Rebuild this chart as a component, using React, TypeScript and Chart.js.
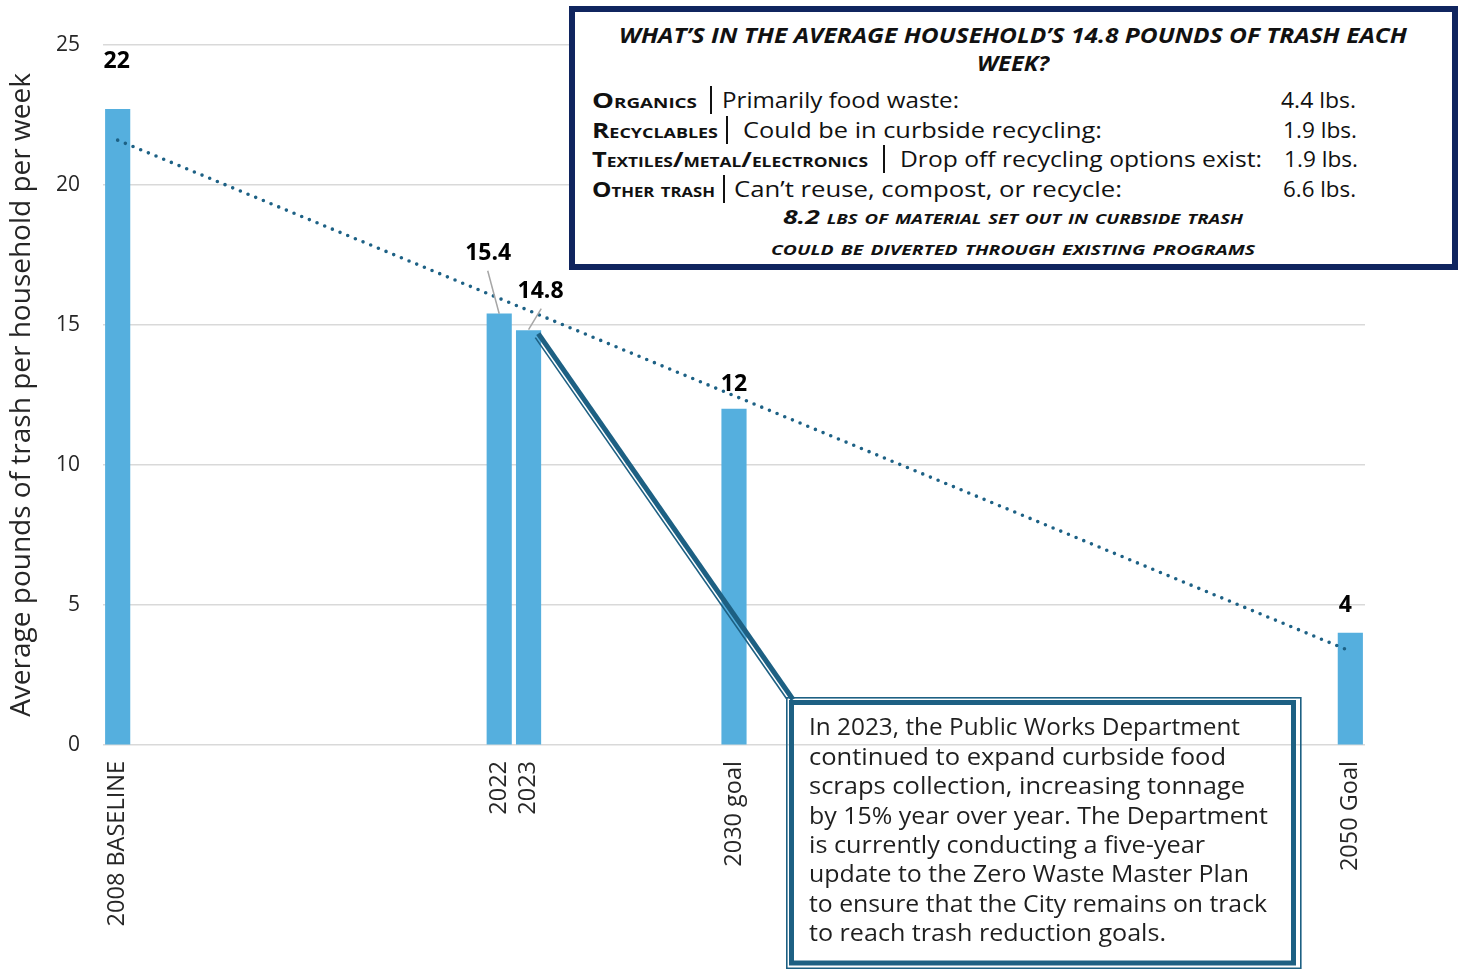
import React, { useEffect, useLayoutEffect, useRef } from "react";
import { Chart, registerables } from "chart.js";

Chart.register(...registerables);

const FONT = "'Open Sans', 'DejaVu Sans', Arial, sans-serif";

// ---------- chart data ----------
const categories = ["2008 BASELINE", "2022", "2023", "2030 goal", "2050 Goal"];
// where the source chart's year axis places each bar
const axisYears = [2008, 2021, 2022, 2029, 2050];
const trashPerWeek = [22.7, 15.4, 14.8, 12, 4];
const valueLabels = ["22", "15.4", "14.8", "12", "4"];
const yTickValues = [0, 5, 10, 15, 20, 25];
const yAxisTitle = "Average pounds of trash per household per week";

// ---------- info box data ----------
const infoTitleLines = [
  "WHAT’S IN THE AVERAGE HOUSEHOLD’S 14.8 POUNDS OF TRASH EACH",
  "WEEK?",
];
const wasteTypes = ["Organics", "Recyclables", "Textiles/metal/electronics", "Other trash"];
const wasteNotes = [
  "Primarily food waste:",
  "Could be in curbside recycling:",
  "Drop off recycling options exist:",
  "Can’t reuse, compost, or recycle:",
];
const wasteLbs = [4.4, 1.9, 1.9, 6.6];
const divertedLines = [
  "8.2 lbs of material set out in curbside trash",
  "could be diverted through existing programs",
];
const calloutLines = [
  "In 2023, the Public Works Department",
  "continued to expand curbside food",
  "scraps collection, increasing tonnage",
  "by 15% year over year. The Department",
  "is currently conducting a five-year",
  "update to the Zero Waste Master Plan",
  "to ensure that the City remains on track",
  "to reach trash reduction goals.",
];

// ---------- layout / style (not data) ----------
const BAR_COLOR = "#55AFDE";
const TREND_COLOR = "#1d6185";
const CALLOUT_COLOR = "#1d6083";
const NAVY = "#10255f";
const TEXT = "#262626";

// label offsets relative to the bar's top-centre
const LABEL_STYLE = [
  { dx: -1, dy: -48, leader: null },
  { dx: -11, dy: -60, leader: [-11.5, -43, 0, 0] },
  { dx: 12, dy: -39, leader: [12.7, -22, 0, -1] },
  { dx: 0, dy: -25, leader: null },
  { dx: -5, dy: -28, leader: null },
];

// widths of each text run in the overlays (page pixels)
const ROW_LAYOUT = [
  { cy: 100, name: [592, 105], pipe: 711, note: [722, 237], val: [1281, 75] },
  { cy: 130, name: [592, 126], pipe: 727, note: [743, 359], val: [1283, 74] },
  { cy: 159, name: [592, 276], pipe: 884, note: [900, 362], val: [1284, 74] },
  { cy: 189, name: [592, 123], pipe: 724, note: [734, 388], val: [1283, 73] },
];
const CALLOUT_LAYOUT = [
  [728, 431], [758, 417], [787, 436], [817, 459], [846, 396], [875, 440], [905, 458], [934, 357],
];

// least-squares trend line through the bars (as in the source chart)
function trendPoints() {
  const n = axisYears.length;
  const mx = axisYears.reduce((a, b) => a + b, 0) / n;
  const my = trashPerWeek.reduce((a, b) => a + b, 0) / n;
  let sxy = 0, sxx = 0;
  for (let i = 0; i < n; i++) {
    sxy += (axisYears[i] - mx) * (trashPerWeek[i] - my);
    sxx += (axisYears[i] - mx) ** 2;
  }
  const slope = sxy / sxx;
  const x0 = axisYears[0], x1 = axisYears[n - 1];
  return [
    { x: x0, y: my + slope * (x0 - mx) },
    { x: x1, y: my + slope * (x1 - mx) },
  ];
}

type FitProps = {
  left: number;
  cy: number;
  width: number;
  size: number;
  weight?: number;
  italic?: boolean;
  smallCaps?: boolean;
  color?: string;
  children: React.ReactNode;
};

function FitLine({ left, cy, width, size, weight = 400, italic = false, smallCaps = false, color = TEXT, children }: FitProps) {
  const ref = useRef<HTMLDivElement>(null);
  useLayoutEffect(() => {
    const el = ref.current;
    if (!el) return;
    const fit = () => {
      el.style.transform = "none";
      const nat = el.getBoundingClientRect().width;
      if (nat > 0) el.style.transform = `scaleX(${width / nat})`;
    };
    fit();
    if ((document as any).fonts && (document as any).fonts.ready) {
      (document as any).fonts.ready.then(fit);
    }
  }, [width]);
  return (
    <div
      ref={ref}
      style={{
        position: "absolute",
        left,
        top: cy - size * 0.65,
        fontFamily: FONT,
        fontSize: size,
        lineHeight: `${size * 1.2}px`,
        fontWeight: weight,
        fontStyle: italic ? "italic" : "normal",
        fontVariant: smallCaps ? "small-caps" : "normal",
        color,
        whiteSpace: "nowrap",
        transformOrigin: "left center",
      }}
    >
      {children}
    </div>
  );
}

function Pipe({ x, cy }: { x: number; cy: number }) {
  return (
    <div style={{ position: "absolute", left: x - 1, top: cy - 14, width: 2, height: 28, background: "#111" }} />
  );
}

export default function App() {
  const canvasRef = useRef<HTMLCanvasElement>(null);

  useEffect(() => {
    const canvas = canvasRef.current;
    if (!canvas) return;

    const labelPlugin = {
      id: "valueLabels",
      afterDatasetsDraw(chart: any) {
        const meta = chart.getDatasetMeta(1);
        const ctx = chart.ctx as CanvasRenderingContext2D;
        ctx.save();
        meta.data.forEach((bar: any, i: number) => {
          const { x, y } = bar.getProps(["x", "y"], true);
          const s = LABEL_STYLE[i];
          if (s.leader) {
            ctx.strokeStyle = "#a6a6a6";
            ctx.lineWidth = 1.5;
            ctx.beginPath();
            ctx.moveTo(x + s.leader[0], y + s.leader[1]);
            ctx.lineTo(x + s.leader[2], y + s.leader[3]);
            ctx.stroke();
          }
          ctx.font = `bold 23px ${FONT}`;
          ctx.fillStyle = "#000";
          ctx.textAlign = "center";
          ctx.textBaseline = "middle";
          ctx.fillText(valueLabels[i], x + s.dx, y + s.dy);
        });
        ctx.restore();
      },
    };

    const calloutPlugin = {
      id: "callout",
      afterDraw(chart: any) {
        const meta = chart.getDatasetMeta(1);
        const bar = meta.data[2];
        const { x, y, width } = bar.getProps(["x", "y", "width"], true);
        const right = x + width / 2;
        const ctx = chart.ctx as CanvasRenderingContext2D;
        ctx.save();
        ctx.strokeStyle = CALLOUT_COLOR;
        ctx.lineCap = "butt";
        // pointer: thick + thin parallel lines
        ctx.lineWidth = 5;
        ctx.beginPath();
        ctx.moveTo(right - 2.5, y + 3);
        ctx.lineTo(793, 699.5);
        ctx.stroke();
        ctx.lineWidth = 1.6;
        ctx.beginPath();
        ctx.moveTo(right - 5.5, y + 7);
        ctx.lineTo(786.8, 699);
        ctx.stroke();
        // frame: thick inner + thin outer
        ctx.lineWidth = 5;
        ctx.strokeRect(791.5, 702.5, 502, 260.5);
        ctx.lineWidth = 1.6;
        ctx.strokeRect(786.8, 697.8, 514, 270.5);
        ctx.restore();
      },
    };

    const chart = new Chart(canvas, {
      type: "bar",
      data: {
        datasets: [
          {
            type: "line",
            label: "Trend",
            data: trendPoints(),
            borderColor: TREND_COLOR,
            borderWidth: 3.6,
            borderDash: [0, 8.3],
            borderCapStyle: "round",
            pointRadius: 0,
            fill: false,
            tension: 0,
            order: 0,
          } as any,
          {
            type: "bar",
            label: "Pounds per week",
            data: axisYears.map((x, i) => ({ x, y: trashPerWeek[i] })),
            backgroundColor: BAR_COLOR,
            barThickness: 24.5,
            order: 1,
          } as any,
        ],
      },
      options: {
        responsive: false,
        animation: false,
        layout: { padding: { top: 45, right: 100, bottom: 0, left: 0 } },
        plugins: {
          legend: { display: false },
          tooltip: { enabled: false },
        },
        scales: {
          x: {
            type: "linear",
            min: 2007.5,
            max: 2050.5,
            offset: false,
            grid: { display: false, drawTicks: false },
            border: { display: false },
            afterBuildTicks: (axis: any) => {
              axis.ticks = axisYears.map((v) => ({ value: v }));
            },
            afterFit: (axis: any) => {
              axis.height = 224;
            },
            ticks: {
              autoSkip: false,
              minRotation: 90,
              maxRotation: 90,
              padding: 16,
              color: TEXT,
              font: { family: FONT, size: 23.5 },
              callback: (_v: any, i: number) => categories[i],
            },
          },
          y: {
            min: 0,
            max: 25,
            afterBuildTicks: (axis: any) => {
              axis.ticks = yTickValues.map((v) => ({ value: v }));
            },
            afterFit: (axis: any) => {
              axis.width = 103;
            },
            grid: { color: "#d9d9d9", lineWidth: 1.5, drawTicks: false },
            border: { display: false },
            ticks: {
              padding: 23,
              color: TEXT,
              font: { family: FONT, size: 21 },
            },
            title: {
              display: true,
              text: yAxisTitle,
              color: TEXT,
              font: { family: FONT, size: 28 },
              padding: { top: 5, bottom: 0 },
            },
          },
        },
      } as any,
      plugins: [labelPlugin, calloutPlugin],
    });

    return () => chart.destroy();
  }, []);

  return (
    <div
      style={{
        position: "fixed",
        left: 0,
        top: 0,
        width: 1465,
        height: 969,
        background: "#fff",
        overflow: "hidden",
      }}
    >
      <canvas
        ref={canvasRef}
        width={1465}
        height={969}
        style={{ position: "absolute", left: 0, top: 0, width: 1465, height: 969 }}
      />

      {/* info box */}
      <div
        style={{
          position: "absolute",
          left: 569,
          top: 6,
          width: 889,
          height: 264,
          boxSizing: "border-box",
          border: `6px solid ${NAVY}`,
          background: "#fff",
        }}
      />
      <FitLine left={619} cy={35} width={788} size={22} weight={700} italic color="#111">
        {infoTitleLines[0]}
      </FitLine>
      <FitLine left={977} cy={63} width={72} size={22} weight={700} italic color="#111">
        {infoTitleLines[1]}
      </FitLine>
      {wasteTypes.map((t, i) => {
        const r = ROW_LAYOUT[i];
        return (
          <React.Fragment key={t}>
            <FitLine left={r.name[0]} cy={r.cy} width={r.name[1]} size={22} weight={700} smallCaps color="#111">
              {t}
            </FitLine>
            <Pipe x={r.pipe} cy={r.cy} />
            <FitLine left={r.note[0]} cy={r.cy} width={r.note[1]} size={22} color="#111">
              {wasteNotes[i]}
            </FitLine>
            <FitLine left={r.val[0]} cy={r.cy} width={r.val[1]} size={22} color="#111">
              {`${wasteLbs[i].toFixed(1)} lbs.`}
            </FitLine>
          </React.Fragment>
        );
      })}
      <FitLine left={783} cy={218} width={460} size={20} weight={700} italic smallCaps color="#111">
        {divertedLines[0]}
      </FitLine>
      <FitLine left={771} cy={249} width={484} size={20} weight={700} italic smallCaps color="#111">
        {divertedLines[1]}
      </FitLine>

      {/* callout text */}
      {calloutLines.map((line, i) => (
        <FitLine key={i} left={809} cy={CALLOUT_LAYOUT[i][0]} width={CALLOUT_LAYOUT[i][1]} size={24} color="#1f1f1f">
          {line}
        </FitLine>
      ))}
    </div>
  );
}
